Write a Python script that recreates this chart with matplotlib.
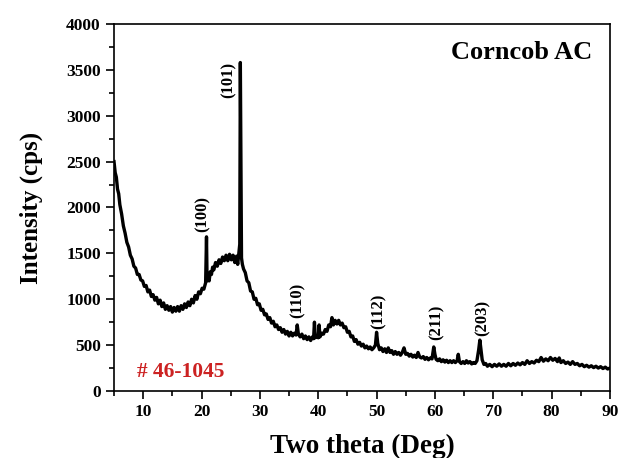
import matplotlib
matplotlib.use("Agg")
import matplotlib.pyplot as plt
from matplotlib.ticker import MultipleLocator

plt.rcParams['font.family'] = ['Liberation Serif', 'DejaVu Serif']
plt.rcParams['font.weight'] = 'bold'

# XRD pattern (2-theta in deg, intensity in cps)
two_theta = [5.0, 5.2, 5.4, 5.6, 5.8, 6.0, 6.3, 6.6, 6.9, 7.2, 7.5, 7.8, 8.1, 8.4, 8.7,
             9.0, 9.3, 9.6, 9.9, 10.2, 10.5, 10.8, 11.1, 11.4, 11.7, 12.0, 12.3, 12.6, 12.9,
             13.2, 13.5, 13.8, 14.1, 14.4, 14.7, 15.0, 15.3, 15.6, 15.9, 16.2, 16.5, 16.8,
             17.1, 17.4, 17.7, 18.0, 18.3, 18.6, 18.9, 19.2, 19.5, 19.8, 20.1, 20.4, 20.7,
             20.85, 20.95, 21.1, 21.3, 21.5, 21.7, 21.9, 22.1, 22.4, 22.7, 23.0, 23.3, 23.6,
             23.9, 24.2, 24.5, 24.8, 25.1, 25.4, 25.7, 26.0, 26.2, 26.4, 26.55, 26.65, 26.75,
             26.85, 27.0, 27.2, 27.5, 27.8, 28.1, 28.4, 28.7, 29.0, 29.3, 29.6, 29.9, 30.2,
             30.5, 30.8, 31.1, 31.4, 31.7, 32.0, 32.3, 32.6, 32.9, 33.2, 33.5, 33.8, 34.1,
             34.4, 34.7, 35.0, 35.3, 35.6, 35.9, 36.2, 36.4, 36.6, 36.9, 37.2, 37.5, 37.8,
             38.1, 38.4, 38.7, 39.0, 39.2, 39.35, 39.5, 39.8, 40.0, 40.15, 40.3, 40.6, 40.9,
             41.2, 41.5, 41.8, 42.1, 42.35, 42.6, 42.9, 43.2, 43.5, 43.8, 44.1, 44.4, 44.7,
             45.0, 45.3, 45.6, 45.9, 46.2, 46.5, 46.8, 47.1, 47.4, 47.7, 48.0, 48.3, 48.6,
             48.9, 49.2, 49.5, 49.8, 50.0, 50.2, 50.5, 50.8, 51.1, 51.4, 51.7, 52.0, 52.3,
             52.6, 52.9, 53.2, 53.5, 53.8, 54.1, 54.4, 54.7, 55.0, 55.3, 55.6, 55.9, 56.2,
             56.5, 56.8, 57.1, 57.4, 57.7, 58.0, 58.3, 58.6, 58.9, 59.2, 59.5, 59.8, 60.0,
             60.2, 60.5, 60.8, 61.1, 61.4, 61.7, 62.0, 62.3, 62.6, 62.9, 63.2, 63.5, 63.8,
             64.0, 64.2, 64.5, 64.8, 65.1, 65.4, 65.7, 66.0, 66.3, 66.6, 66.9, 67.2, 67.5,
             67.7, 67.9, 68.1, 68.4, 68.7, 69.0, 69.4, 69.8, 70.2, 70.6, 71.0, 71.4, 71.8,
             72.2, 72.6, 73.0, 73.4, 73.8, 74.2, 74.6, 75.0, 75.4, 75.8, 76.2, 76.6, 77.0,
             77.4, 77.8, 78.2, 78.6, 79.0, 79.4, 79.8, 80.2, 80.6, 81.0, 81.3, 81.6, 82.0,
             82.4, 82.8, 83.2, 83.6, 84.0, 84.4, 84.8, 85.2, 85.6, 86.0, 86.4, 86.8, 87.2,
             87.6, 88.0, 88.4, 88.8, 89.2, 89.6, 90.0]
intensity = [2500, 2380, 2330, 2200, 2150, 2030, 1930, 1800, 1720, 1620, 1570, 1480, 1440, 1360, 1340,
             1270, 1270, 1210, 1200, 1140, 1150, 1080, 1100, 1030, 1050, 990, 1020, 950, 990,
             920, 960, 890, 930, 880, 920, 860, 910, 870, 920, 870, 930, 890,
             950, 910, 970, 930, 1000, 960, 1040, 1000, 1080, 1060, 1120, 1110, 1180,
             1680, 1200, 1250, 1200, 1300, 1270, 1350, 1320, 1400, 1360, 1430, 1390, 1460,
             1420, 1480, 1420, 1490, 1430, 1480, 1400, 1470, 1380, 1500, 1600, 3580, 2600,
             1450, 1380, 1330, 1290, 1200, 1180, 1090, 1080, 1000, 1010, 940, 950, 880,
             890, 830, 840, 780, 800, 740, 760, 700, 720, 670, 690, 640, 670,
             620, 650, 600, 640, 600, 630, 610, 720, 620, 590, 620, 570, 600,
             560, 590, 550, 590, 570, 750, 580, 600, 580, 720, 590, 630, 620,
             670, 650, 720, 700, 800, 720, 770, 730, 770, 720, 740, 690, 700,
             640, 650, 590, 600, 540, 560, 510, 530, 490, 510, 470, 490, 460,
             480, 450, 470, 500, 640, 520, 450, 470, 430, 460, 420, 470, 420,
             440, 400, 430, 400, 420, 390, 420, 470, 400, 410, 380, 400, 370,
             390, 365, 420, 370, 360, 375, 345, 365, 340, 360, 350, 480, 400,
             345, 330, 350, 320, 340, 315, 335, 310, 330, 310, 330, 310, 330,
             400, 320, 300, 320, 300, 330, 305, 320, 295, 310, 300, 330, 450,
             555, 450, 340, 290, 300, 270, 290, 265, 290, 270, 295, 270, 290,
             270, 300, 275, 300, 280, 305, 285, 310, 290, 330, 300, 320, 305,
             335, 320, 365, 325, 350, 330, 365, 335, 355, 320, 360, 310, 330,
             300, 315, 290, 320, 290, 300, 275, 290, 265, 280, 260, 275, 255,
             270, 250, 265, 245, 260, 240, 250]

# peak labels: (hkl), x, y of label centre
hkl_labels = ['(100)', '(101)', '(110)', '(112)', '(211)', '(203)']
hkl_x = [20.2, 24.6, 36.4, 50.3, 60.3, 68.2]
hkl_y = [1930, 3390, 990, 870, 750, 795]

fig = plt.figure(figsize=(6.18, 4.58), dpi=100)
ax = fig.add_axes([0.1845, 0.1463, 0.8025, 0.8013])

ax.plot(two_theta, intensity, color='black', linewidth=2.4)

for lab, hx, hy in zip(hkl_labels, hkl_x, hkl_y):
    ax.text(hx, hy, lab, rotation=90, ha='center', va='center',
            fontsize=12, fontweight='bold')

ax.text(86.9, 3690, 'Corncob AC', ha='right', va='center', fontsize=19, fontweight='bold')
ax.text(8.9, 207, '# 46-1045', ha='left', va='center', fontsize=15.5,
        fontweight='bold', color='#cc2222')

ax.set_xlim(5, 90)
ax.set_ylim(0, 4000)
ax.xaxis.set_major_locator(MultipleLocator(10))
ax.xaxis.set_minor_locator(MultipleLocator(5))
ax.yaxis.set_major_locator(MultipleLocator(500))
ax.yaxis.set_minor_locator(MultipleLocator(250))
ax.tick_params(which='both', direction='out', width=1.2, labelsize=12.5)
ax.tick_params(which='major', length=6)
ax.tick_params(which='minor', length=3.5)
for s in ax.spines.values():
    s.set_linewidth(1.2)

ax.set_xlabel('Two theta (Deg)', fontsize=19.5, fontweight='bold', labelpad=10)
ax.set_ylabel('Intensity (cps)', fontsize=18, fontweight='bold', labelpad=17)

fig.savefig('out.png', dpi=100)
